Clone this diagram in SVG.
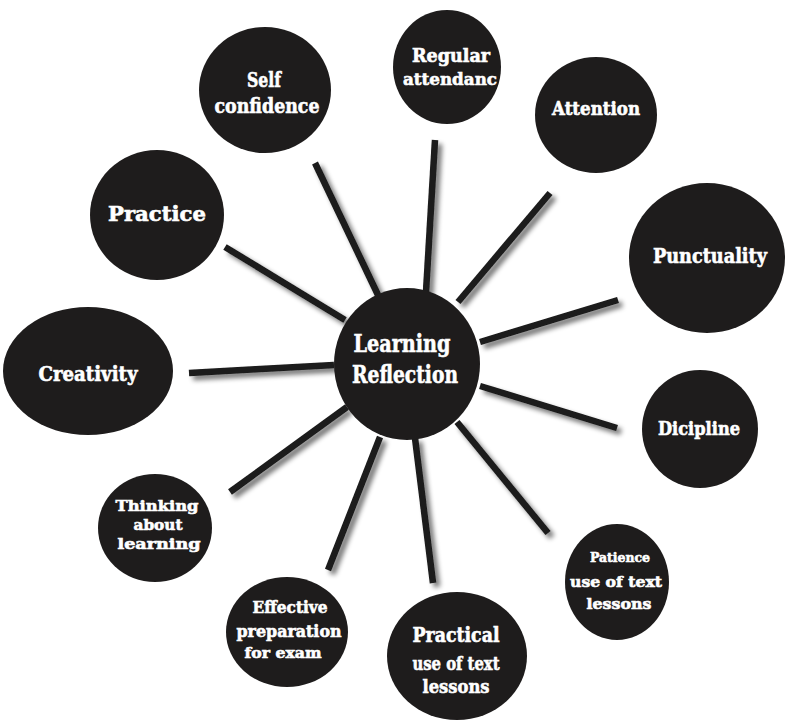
<svg xmlns="http://www.w3.org/2000/svg" width="787" height="721" viewBox="0 0 787 721">
<defs>
<filter id="sh" x="-20%" y="-20%" width="140%" height="140%">
<feGaussianBlur in="SourceAlpha" stdDeviation="2.5"/>
<feOffset dx="4" dy="4" result="b"/>
<feComponentTransfer><feFuncA type="linear" slope="0.55"/></feComponentTransfer>
<feMerge><feMergeNode/><feMergeNode in="SourceGraphic"/></feMerge>
</filter>
</defs>
<style>
.n{fill:#1e1c1c}
.t{fill:#ffffff;stroke:#ffffff;stroke-width:0.6;font-family:"DejaVu Serif",serif;font-weight:bold;text-anchor:middle}
.c line{stroke:#1a1a1a;stroke-width:6.5;stroke-linecap:butt}
</style>
<rect width="787" height="721" fill="#ffffff"/>
<g id="connectors" class="c" filter="url(#sh)">
<line x1="315" y1="163" x2="378" y2="295"/>
<line x1="435" y1="140" x2="426" y2="292"/>
<line x1="550" y1="193" x2="458" y2="302"/>
<line x1="618" y1="300" x2="480" y2="342"/>
<line x1="225" y1="247" x2="345" y2="320"/>
<line x1="189" y1="373" x2="334" y2="365"/>
<line x1="617" y1="428" x2="480" y2="386"/>
<line x1="230" y1="492" x2="347" y2="407"/>
<line x1="328" y1="570" x2="380" y2="437"/>
<line x1="433" y1="583" x2="415" y2="438"/>
<line x1="548" y1="533" x2="457" y2="422"/>
</g>
<g id="center">
<ellipse class="n" cx="407" cy="364" rx="73" ry="76"/>
<text class="t" x="402" y="352" font-size="25" textLength="97" lengthAdjust="spacingAndGlyphs">Learning</text>
<text class="t" x="405" y="383" font-size="25" textLength="106" lengthAdjust="spacingAndGlyphs">Reflection</text>
</g>
<g id="self-confidence">
<ellipse class="n" cx="265" cy="90" rx="66" ry="63"/>
<text class="t" x="264" y="87" font-size="20" textLength="34" lengthAdjust="spacingAndGlyphs">Self</text>
<text class="t" x="267" y="113" font-size="20" textLength="105" lengthAdjust="spacingAndGlyphs">confidence</text>
</g>
<g id="regular-attendance">
<ellipse class="n" cx="447" cy="67" rx="54" ry="57"/>
<text class="t" x="451" y="62" font-size="18" textLength="78" lengthAdjust="spacingAndGlyphs">Regular</text>
<text class="t" x="450" y="85" font-size="17" textLength="94" lengthAdjust="spacingAndGlyphs">attendanc</text>
</g>
<g id="attention">
<ellipse class="n" cx="596" cy="115" rx="61" ry="58"/>
<text class="t" x="596" y="115" font-size="18" textLength="88" lengthAdjust="spacingAndGlyphs">Attention</text>
</g>
<g id="punctuality">
<ellipse class="n" cx="707" cy="258" rx="78" ry="75"/>
<text class="t" x="710" y="263" font-size="20" textLength="114" lengthAdjust="spacingAndGlyphs">Punctuality</text>
</g>
<g id="practice">
<ellipse class="n" cx="157" cy="215" rx="67" ry="65"/>
<text class="t" x="157" y="221" font-size="20" textLength="98" lengthAdjust="spacingAndGlyphs">Practice</text>
</g>
<g id="creativity">
<ellipse class="n" cx="88" cy="371" rx="85" ry="64"/>
<text class="t" x="88" y="381" font-size="20" textLength="99" lengthAdjust="spacingAndGlyphs">Creativity</text>
</g>
<g id="dicipline">
<ellipse class="n" cx="700" cy="429" rx="58" ry="59"/>
<text class="t" x="699" y="435" font-size="18" textLength="82" lengthAdjust="spacingAndGlyphs">Dicipline</text>
</g>
<g id="thinking">
<ellipse class="n" cx="155" cy="528" rx="57" ry="54"/>
<text class="t" x="157" y="511" font-size="15" textLength="83" lengthAdjust="spacingAndGlyphs">Thinking</text>
<text class="t" x="158" y="530" font-size="15" textLength="49" lengthAdjust="spacingAndGlyphs">about</text>
<text class="t" x="159" y="549" font-size="15" textLength="83" lengthAdjust="spacingAndGlyphs">learning</text>
</g>
<g id="effective">
<ellipse class="n" cx="287" cy="632" rx="61" ry="55"/>
<text class="t" x="290" y="613" font-size="16" textLength="75" lengthAdjust="spacingAndGlyphs">Effective</text>
<text class="t" x="289" y="637" font-size="16" textLength="105" lengthAdjust="spacingAndGlyphs">preparation</text>
<text class="t" x="283" y="658" font-size="15" textLength="77" lengthAdjust="spacingAndGlyphs">for exam</text>
</g>
<g id="practical">
<ellipse class="n" cx="457" cy="656" rx="70" ry="64"/>
<text class="t" x="456" y="642" font-size="20" textLength="87" lengthAdjust="spacingAndGlyphs">Practical</text>
<text class="t" x="456" y="670" font-size="19" textLength="87" lengthAdjust="spacingAndGlyphs">use of text</text>
<text class="t" x="456" y="693" font-size="19" textLength="67" lengthAdjust="spacingAndGlyphs">lessons</text>
</g>
<g id="patience">
<ellipse class="n" cx="617" cy="582" rx="52" ry="58"/>
<text class="t" x="620" y="562" font-size="13" textLength="60" lengthAdjust="spacingAndGlyphs">Patience</text>
<text class="t" x="616" y="587" font-size="15" textLength="92" lengthAdjust="spacingAndGlyphs">use of text</text>
<text class="t" x="619" y="609" font-size="15" textLength="65" lengthAdjust="spacingAndGlyphs">lessons</text>
</g>
</svg>
